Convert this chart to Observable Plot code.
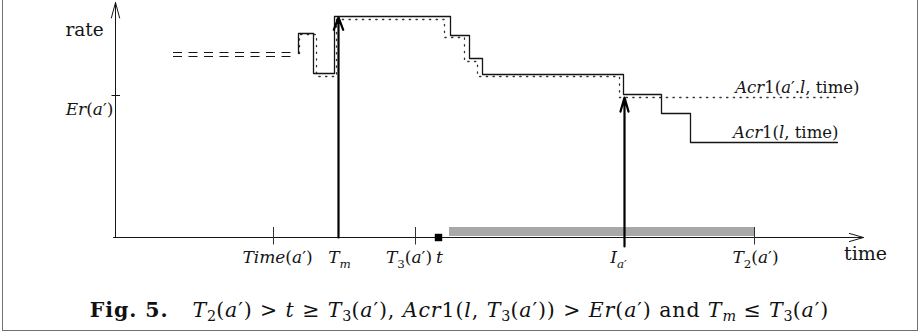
<!DOCTYPE html>
<html><head><meta charset="utf-8">
<script src="https://cdn.jsdelivr.net/npm/d3@7"></script>
<script src="https://cdn.jsdelivr.net/npm/@observablehq/plot@0.6"></script>
<style>
html,body{margin:0;padding:0;background:#fff;}
body{width:919px;height:332px;overflow:hidden;position:relative;font-family:"DejaVu Serif",serif;color:#111;}
#frame{position:absolute;left:2px;top:-3px;width:916px;height:334px;border:1.6px solid #707070;box-sizing:border-box;}
#chart{position:absolute;left:0;top:0;}
#cap{position:absolute;left:0;width:919px;top:299px;text-align:center;font-size:20.5px;letter-spacing:0.9px;white-space:nowrap;line-height:23px;}
#cap sub{font-size:70%;vertical-align:-0.25em;line-height:0;letter-spacing:0;}
</style></head><body>
<div id="frame"></div><div id="chart"></div><div id="cap"></div>
<script>
// ---- data (time units along the x axis, rate units along the y axis) ----
const axisTimeMax = 74.8;
const axisRateMax = 23.5;
const eventLabels = ["*Time*(*a*′)", "*T*_{*m*}", "*T*_{3}(*a*′)", "*t*", "*I*_{*a*′}", "*T*_{2}(*a*′)"];
const eventTimes  = [15.8, 22.3, 30.0, 32.3, 50.9, 63.9];
const tickedTimes = [15.8, 30.0, 50.9, 63.9];
const erLabel = "*Er*(*a*′)";
const erRate = 14.2;
const tmTime = 22.3, tmRate = 22.0;
const iaTime = 50.9, iaRate = 14.0;
const tTime = 32.3;
const busyInterval = [33.4, 63.9];
const busyRates = [0.1, 1.0];
const dashTimes = [5.8, 18.2];
const dashRates = [18.5, 18.1];
const solidTimes = [18.3, 18.3, 19.8, 21.9, 33.5, 35.4, 36.7, 50.8, 54.6, 57.5, 72.2];
const solidRates = [18.4, 20.4, 16.4, 22.1, 20.2, 17.9, 16.3, 14.3, 12.4, 9.5, 9.5];
const dottedTimes = [18.4, 18.4, 20.1, 22.1, 32.9, 34.9, 36.2, 50.4, 72.2];
const dottedRates = [18.4, 20.3, 16.1, 21.8, 20.0, 17.6, 16.1, 14.0, 14.0];
const seriesLabels = ["*Acr*1(*a*′.*l*, time)", "*Acr*1(*l*, time)"];
const yTitle = "rate", xTitle = "time";
const captionHTML = '<b>Fig. 5.</b><span style="display:inline-block;width:24px"></span><i>T</i><sub>2</sub>(<i>a</i>′) &gt; <i>t</i> ≥ <i>T</i><sub>3</sub>(<i>a</i>′), <i>Acr</i>1(<i>l</i>, <i>T</i><sub>3</sub>(<i>a</i>′)) &gt; <i>Er</i>(<i>a</i>′) and <i>T<sub>m</sub></i> ≤ <i>T</i><sub>3</sub>(<i>a</i>′)';

// ---- layout constants ----
const labelDx = [4, 1, -6.5, 1, -6, 1];
const ink = "#151515";

const solid = solidTimes.map((t, i) => ({t, r: solidRates[i]}));
const dotted = dottedTimes.map((t, i) => ({t, r: dottedRates[i]}));
const solidEnd = solid[solid.length - 1], dottedEnd = dotted[dotted.length - 1];

const plot = Plot.plot({
  width: 919, height: 290,
  x: {domain: [0, 75], range: [115, 865], axis: null},
  y: {domain: [0, 23.5], range: [237, 2], axis: null},
  style: {fontFamily: "'DejaVu Serif', serif", background: "transparent", color: ink},
  marks: [
    Plot.rect([busyInterval], {x1: d => d[0], x2: d => d[1], y1: busyRates[0], y2: busyRates[1], fill: "#a8a8a8"}),
    Plot.arrow([{x1: 0, y1: 0, x2: 0, y2: axisRateMax}], {x1: "x1", y1: "y1", x2: "x2", y2: "y2", stroke: ink, strokeWidth: 1, headLength: 24, headAngle: 30}),
    Plot.arrow([{x1: -0.2, y1: 0, x2: axisTimeMax, y2: 0}], {x1: "x1", y1: "y1", x2: "x2", y2: "y2", stroke: ink, strokeWidth: 1, headLength: 22, headAngle: 32}),
    Plot.ruleX(tickedTimes, {x: d => d, y1: -0.75, y2: 1.0, stroke: "#333", strokeWidth: 1}),
    Plot.ruleY([erRate], {y: d => d, x1: -0.35, x2: 0.5, stroke: ink, strokeWidth: 1}),
    Plot.ruleY(dashRates, {y: d => d, x1: dashTimes[0], x2: dashTimes[1], stroke: ink, strokeWidth: 1, strokeDasharray: "9,6.5"}),
    Plot.line(dotted, {x: "t", y: "r", curve: "step-after", stroke: "#333", strokeWidth: 1.3, strokeDasharray: "1.3,5.4"}),
    Plot.line(solid, {x: "t", y: "r", curve: "step-after", stroke: ink, strokeWidth: 1.3}),
    Plot.arrow([{x1: tmTime, y1: 0, x2: tmTime, y2: tmRate}], {x1: "x1", y1: "y1", x2: "x2", y2: "y2", stroke: "#000", strokeWidth: 2.2, headLength: 9, headAngle: 42}),
    Plot.arrow([{x1: iaTime, y1: -0.9, x2: iaTime, y2: iaRate}], {x1: "x1", y1: "y1", x2: "x2", y2: "y2", stroke: "#000", strokeWidth: 2.2, headLength: 10, headAngle: 32}),
    Plot.dot([tTime], {x: d => d, y: 0, symbol: "square", r: 4.2, fill: "#000", stroke: null}),
    ...eventLabels.map((lab, i) => Plot.text([lab], {x: eventTimes[i], y: 0, text: d => d, dx: labelDx[i], dy: 20, fontSize: 17, fill: ink})),
    Plot.text([yTitle], {x: 0, y: axisRateMax, text: d => d, dx: -31, dy: 28, fontSize: 18.5, fill: ink}),
    Plot.text([erLabel], {x: 0, y: erRate, text: d => d, textAnchor: "end", dx: -2, dy: 14, fontSize: 17, fill: ink}),
    Plot.text([xTitle], {x: axisTimeMax, y: 0, text: d => d, dx: 2, dy: 16, fontSize: 19, fill: ink}),
    Plot.text([seriesLabels[0]], {x: dottedEnd.t, y: dottedEnd.r, text: d => d, textAnchor: "end", dx: 22, dy: -10, fontSize: 16.5, fill: ink}),
    Plot.text([seriesLabels[1]], {x: solidEnd.t, y: solidEnd.r, text: d => d, textAnchor: "end", dx: 1, dy: -10, fontSize: 16.5, fill: ink})
  ]
});
document.getElementById("chart").appendChild(plot);

// rich math-style labels: *...* italic, _{...} subscript
function rich(el, src) {
  const ns = "http://www.w3.org/2000/svg";
  const fs = parseFloat(getComputedStyle(el).fontSize) || 16;
  el.textContent = "";
  let it = false, sub = false, dy = 0, buf = "";
  const flush = () => {
    if (!buf) return;
    const t = document.createElementNS(ns, "tspan");
    t.textContent = buf;
    t.setAttribute("font-style", it ? "italic" : "normal");
    if (sub) t.setAttribute("font-size", (fs * 0.7).toFixed(1));
    if (dy) { t.setAttribute("dy", dy.toFixed(1)); dy = 0; }
    el.appendChild(t); buf = "";
  };
  for (let i = 0; i < src.length; i++) {
    const c = src[i];
    if (c === "*") { flush(); it = !it; }
    else if (c === "_" && src[i + 1] === "{") { flush(); sub = true; dy += fs * 0.3; i++; }
    else if (c === "}" && sub) { flush(); sub = false; dy -= fs * 0.3; }
    else buf += c;
  }
  flush();
}
plot.querySelectorAll("text").forEach(el => {
  const s = el.textContent;
  if (s.includes("*") || s.includes("_{")) rich(el, s);
});
document.getElementById("cap").innerHTML = captionHTML;
</script>
</body></html>
